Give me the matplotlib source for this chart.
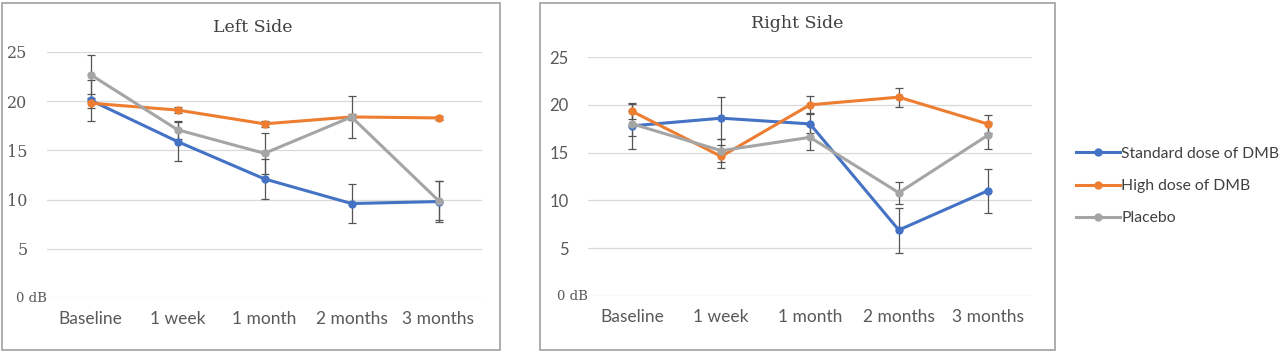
import matplotlib.pyplot as plt
from matplotlib.patches import Rectangle
from matplotlib.lines import Line2D

# time points
labels = ["Baseline", "1 week", "1 month", "2 months", "3 months"]
series = ["Standard dose of DMB", "High dose of DMB", "Placebo"]
colors = ["#4472C4", "#ED7D31", "#A5A5A5"]

# left side (dB)
left_std = [20.1, 15.9, 12.1, 9.6, 9.8]
left_std_err = [2.1, 2.0, 2.0, 2.0, 2.1]
left_high = [19.8, 19.1, 17.7, 18.4, 18.3]
left_high_err = [0.5, 0.3, 0.3, 0.3, 0.2]
left_pla = [22.7, 17.1, 14.7, 18.4, 9.9]
left_pla_err = [2.0, 0.9, 2.1, 2.1, 2.0]

# right side (dB)
right_std = [17.8, 18.6, 18.0, 6.9, 11.0]
right_std_err = [2.4, 2.2, 1.0, 2.35, 2.3]
right_high = [19.3, 14.6, 20.0, 20.8, 18.0]
right_high_err = [0.8, 1.2, 0.9, 1.0, 0.9]
right_pla = [18.0, 15.2, 16.6, 10.8, 16.8]
right_pla_err = [1.3, 1.2, 1.3, 1.15, 1.4]

serif = "DejaVu Serif"
sans = "Lato"
txt = "#595959"

fig = plt.figure(figsize=(12.8, 3.52), dpi=100)

# outer frames
fig.add_artist(Rectangle((2/1280, 2/352), 498/1280, 347/352, transform=fig.transFigure,
                         fill=False, ec="#A0A0A0", lw=1.2))
fig.add_artist(Rectangle((540/1280, 2/352), 515/1280, 347/352, transform=fig.transFigure,
                         fill=False, ec="#A0A0A0", lw=1.2))


def panel(ax, vals, errs, ytick_font, ysize):
    x = range(len(labels))
    for v, e, c in zip(vals, errs, colors):
        ax.errorbar(x, v, yerr=e, fmt="none", ecolor="#555555", elinewidth=0.9,
                    capsize=3, capthick=0.9, zorder=2)
        ax.plot(x, v, color=c, lw=2.2, marker="o", ms=5, zorder=3)
    ax.set_xlim(-0.5, 4.5)
    ax.set_ylim(0, 25)
    ax.set_yticks([0, 5, 10, 15, 20, 25])
    ax.set_yticklabels(["", "5", "10", "15", "20", "25"], fontfamily=ytick_font,
                       fontsize=ysize, color=txt)
    ax.text(-0.5, 0, "0 dB", fontfamily=serif, fontsize=9.5, color=txt,
            ha="right", va="center")
    ax.set_xticks(list(x))
    ax.set_xticklabels(labels, fontfamily=sans, fontsize=12.5, color=txt)
    ax.tick_params(length=0, pad=9)
    ax.tick_params(axis="y", pad=14)
    ax.grid(axis="y", color="#D9D9D9", lw=0.9)
    ax.set_axisbelow(True)
    for s in ax.spines.values():
        s.set_visible(False)


ax1 = fig.add_axes([47/1280, 1 - 298/352, 435/1280, 246/352])
panel(ax1, [left_std, left_high, left_pla],
      [left_std_err, left_high_err, left_pla_err], serif, 11.5)

ax2 = fig.add_axes([588/1280, 1 - 296/352, 444/1280, 239/352])
panel(ax2, [right_std, right_high, right_pla],
      [right_std_err, right_high_err, right_pla_err], sans, 12)

fig.text(253/1280, 1 - 28/352, "Left Side", fontfamily=serif, fontsize=12.5,
         color="#404040", ha="center", va="center")
fig.text(797/1280, 1 - 24/352, "Right Side", fontfamily=serif, fontsize=12.5,
         color="#404040", ha="center", va="center")

handles = [Line2D([0], [0], color=c, lw=2.2, marker="o", ms=5) for c in colors]
fig.legend(handles, series, loc="center left", bbox_to_anchor=(1068/1280, 1 - 186/352),
           frameon=False, prop={"family": sans, "size": 11.3}, labelcolor="#404040",
           handlelength=2.8, handletextpad=0.1, labelspacing=1.15, borderpad=0)

fig.savefig("out.png", dpi=100)
